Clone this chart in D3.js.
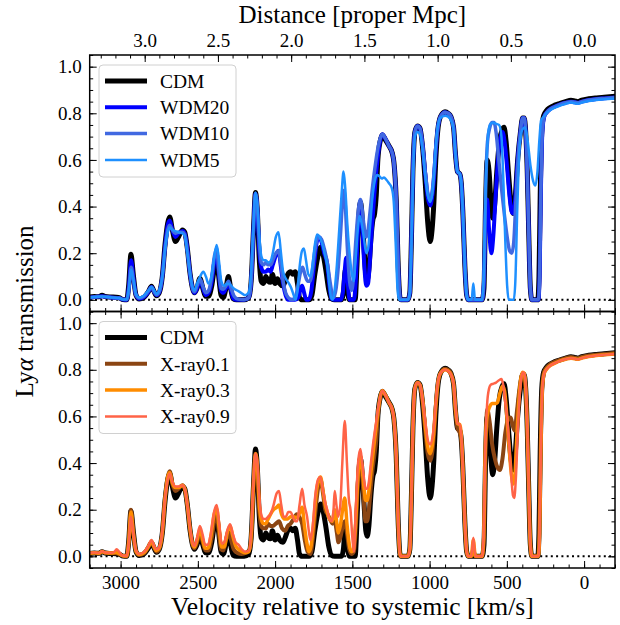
<!DOCTYPE html>
<html>
<head>
<meta charset="utf-8">
<script src="https://cdn.jsdelivr.net/npm/d3@7"></script>
<style>
body { margin: 0; background: #fff; }
text { font-family: "Liberation Serif", "DejaVu Serif", serif; fill: #000; }
</style>
</head>
<body>
<svg id="chart" width="620" height="625"></svg>
<script>
// transmission curves, [velocity km/s, transmission]
var cdm = [[3200,0.012],[3170,0.014],[3140,0.013],[3120,0.02],[3100,0.014],[3060,0.012],[3030,0.011],[3005,0.008],[2985,0.001],[2960,0],[2948,0.06],[2933,0.195],[2918,0.11],[2900,0.02],[2880,0.004],[2850,0.01],[2820,0.035],[2800,0.058],[2783,0.035],[2768,0.018],[2750,0.03],[2730,0.1],[2712,0.24],[2695,0.33],[2682,0.355],[2665,0.3],[2645,0.25],[2625,0.27],[2600,0.3],[2585,0.29],[2568,0.22],[2550,0.11],[2535,0.05],[2522,0.03],[2505,0.05],[2487,0.093],[2468,0.05],[2450,0.015],[2432,0.015],[2410,0.06],[2392,0.14],[2378,0.17],[2365,0.1],[2350,0.02],[2335,0.01],[2318,0.05],[2302,0.1],[2288,0.05],[2272,0.005],[2250,0],[2200,0],[2170,0.01],[2155,0.08],[2140,0.3],[2127,0.46],[2115,0.38],[2103,0.18],[2090,0.08],[2075,0.07],[2060,0.1],[2045,0.08],[2030,0.075],[2018,0.11],[2000,0.07],[1985,0.09],[1970,0.07],[1950,0.06],[1935,0.08],[1918,0.11],[1900,0.12],[1885,0.11],[1870,0.12],[1855,0.07],[1842,0.01],[1825,0],[1780,0],[1762,0.02],[1745,0.1],[1725,0.18],[1705,0.225],[1688,0.19],[1670,0.12],[1652,0.04],[1635,0.005],[1615,0],[1570,0],[1558,0.03],[1545,0.13],[1532,0.04],[1518,0],[1482,0],[1470,0.15],[1458,0.36],[1447,0.42],[1436,0.35],[1424,0.22],[1413,0.11],[1404,0.086],[1393,0.13],[1380,0.26],[1368,0.34],[1356,0.37],[1345,0.45],[1335,0.6],[1320,0.68],[1306,0.707],[1285,0.685],[1263,0.66],[1242,0.63],[1231,0.59],[1216,0.43],[1203,0.14],[1192,0.01],[1185,0],[1140,0],[1128,0.03],[1118,0.25],[1108,0.55],[1095,0.72],[1078,0.745],[1062,0.735],[1045,0.65],[1028,0.5],[1012,0.33],[996,0.25],[984,0.3],[972,0.42],[960,0.6],[948,0.72],[930,0.785],[900,0.807],[880,0.8],[862,0.785],[845,0.74],[832,0.62],[820,0.55],[805,0.54],[795,0.5],[785,0.38],[772,0.15],[760,0.02],[750,0],[660,0],[648,0.05],[638,0.4],[628,0.6],[615,0.55],[603,0.42],[592,0.35],[580,0.4],[565,0.55],[548,0.68],[530,0.73],[518,0.74],[505,0.68],[490,0.55],[475,0.43],[460,0.37],[448,0.42],[430,0.6],[412,0.72],[398,0.78],[388,0.78],[378,0.72],[368,0.55],[358,0.28],[348,0.05],[338,0],[300,0],[292,0.1],[284,0.45],[274,0.72],[262,0.79],[245,0.81],[220,0.825],[190,0.835],[160,0.842],[120,0.85],[85,0.856],[60,0.853],[40,0.85],[15,0.856],[-30,0.862],[-80,0.866],[-130,0.869],[-200,0.873]];

var wdm20 = [[3200,0.01],[3170,0.012],[3120,0.015],[3060,0.01],[3010,0.008],[2985,0.001],[2960,0],[2946,0.06],[2932,0.17],[2918,0.1],[2900,0.02],[2880,0.005],[2850,0.012],[2820,0.035],[2800,0.055],[2783,0.035],[2768,0.02],[2750,0.032],[2730,0.1],[2712,0.23],[2695,0.32],[2682,0.34],[2665,0.3],[2645,0.27],[2625,0.285],[2600,0.295],[2585,0.285],[2568,0.22],[2550,0.11],[2535,0.05],[2522,0.03],[2505,0.05],[2485,0.085],[2465,0.045],[2448,0.02],[2430,0.03],[2410,0.08],[2392,0.17],[2378,0.2],[2365,0.12],[2350,0.04],[2335,0.03],[2318,0.05],[2302,0.065],[2285,0.04],[2270,0.005],[2250,0],[2200,0],[2170,0.01],[2155,0.08],[2140,0.3],[2127,0.455],[2115,0.39],[2103,0.22],[2090,0.14],[2075,0.12],[2060,0.12],[2045,0.13],[2030,0.12],[2015,0.15],[1995,0.19],[1978,0.21],[1962,0.14],[1948,0.07],[1932,0.02],[1915,0],[1870,0],[1850,0.01],[1838,0.04],[1825,0.06],[1812,0.03],[1798,0],[1782,0],[1765,0.04],[1748,0.15],[1730,0.25],[1718,0.27],[1700,0.25],[1682,0.2],[1663,0.155],[1648,0.06],[1635,0.005],[1620,0],[1575,0],[1562,0.03],[1550,0.12],[1540,0.18],[1530,0.08],[1518,0],[1490,0],[1478,0.08],[1463,0.3],[1448,0.42],[1435,0.3],[1422,0.14],[1410,0.06],[1398,0.07],[1385,0.18],[1372,0.32],[1358,0.45],[1345,0.55],[1330,0.64],[1318,0.69],[1306,0.71],[1285,0.69],[1263,0.66],[1242,0.63],[1231,0.59],[1216,0.43],[1203,0.14],[1192,0.01],[1185,0],[1140,0],[1128,0.03],[1118,0.25],[1108,0.55],[1095,0.72],[1078,0.745],[1062,0.735],[1045,0.66],[1028,0.54],[1012,0.44],[996,0.405],[984,0.44],[972,0.52],[960,0.64],[948,0.73],[930,0.785],[900,0.805],[880,0.8],[862,0.785],[845,0.74],[832,0.62],[820,0.55],[805,0.54],[795,0.5],[785,0.38],[772,0.15],[760,0.02],[750,0],[660,0],[648,0.08],[638,0.35],[628,0.43],[615,0.3],[600,0.2],[588,0.27],[572,0.45],[555,0.62],[540,0.7],[528,0.72],[515,0.68],[500,0.58],[485,0.46],[470,0.38],[458,0.37],[446,0.43],[430,0.6],[412,0.72],[398,0.78],[388,0.78],[378,0.72],[368,0.55],[358,0.28],[348,0.05],[338,0],[296,0],[288,0.1],[280,0.45],[270,0.72],[258,0.785],[240,0.805],[215,0.82],[185,0.83],[155,0.838],[120,0.845],[85,0.85],[60,0.847],[40,0.845],[15,0.85],[-30,0.857],[-80,0.861],[-130,0.864],[-200,0.868]];

var wdm10 = [[3200,0.01],[3170,0.012],[3120,0.014],[3060,0.01],[3010,0.008],[2985,0.002],[2960,0.001],[2946,0.05],[2932,0.14],[2918,0.09],[2900,0.02],[2880,0.008],[2850,0.015],[2820,0.038],[2800,0.055],[2783,0.035],[2768,0.022],[2750,0.035],[2730,0.1],[2712,0.22],[2695,0.3],[2682,0.32],[2665,0.3],[2645,0.285],[2625,0.29],[2600,0.29],[2585,0.28],[2568,0.21],[2550,0.11],[2535,0.05],[2522,0.035],[2505,0.06],[2487,0.09],[2466,0.055],[2448,0.03],[2430,0.04],[2410,0.1],[2392,0.19],[2378,0.22],[2365,0.13],[2350,0.05],[2335,0.045],[2318,0.06],[2302,0.08],[2285,0.05],[2265,0.015],[2240,0.003],[2200,0],[2170,0.01],[2155,0.08],[2140,0.3],[2127,0.455],[2115,0.4],[2103,0.25],[2090,0.16],[2075,0.15],[2060,0.16],[2045,0.15],[2030,0.15],[2015,0.17],[1995,0.2],[1978,0.21],[1962,0.15],[1948,0.08],[1932,0.03],[1915,0.01],[1890,0],[1870,0.01],[1852,0.06],[1835,0.12],[1822,0.14],[1808,0.11],[1790,0.08],[1775,0.08],[1760,0.12],[1745,0.2],[1728,0.26],[1715,0.27],[1700,0.26],[1682,0.22],[1660,0.15],[1645,0.08],[1632,0.03],[1620,0.01],[1605,0.05],[1590,0.15],[1575,0.3],[1562,0.44],[1554,0.47],[1545,0.4],[1532,0.22],[1518,0.08],[1505,0.04],[1492,0.1],[1478,0.25],[1462,0.38],[1448,0.43],[1435,0.38],[1422,0.3],[1410,0.27],[1398,0.3],[1385,0.38],[1370,0.48],[1355,0.56],[1340,0.63],[1325,0.68],[1306,0.71],[1285,0.69],[1263,0.66],[1242,0.63],[1231,0.59],[1216,0.43],[1203,0.14],[1192,0.01],[1185,0],[1140,0],[1128,0.03],[1118,0.25],[1108,0.55],[1095,0.72],[1078,0.745],[1062,0.735],[1045,0.66],[1028,0.55],[1012,0.46],[996,0.43],[984,0.46],[972,0.54],[960,0.65],[948,0.73],[930,0.785],[900,0.805],[880,0.8],[862,0.785],[845,0.74],[832,0.62],[820,0.55],[805,0.54],[795,0.5],[785,0.38],[772,0.15],[760,0.02],[750,0],[660,0],[648,0.1],[638,0.45],[625,0.68],[610,0.74],[595,0.76],[583,0.76],[570,0.72],[555,0.62],[535,0.48],[515,0.36],[498,0.27],[482,0.21],[468,0.2],[455,0.25],[442,0.42],[428,0.6],[412,0.72],[398,0.78],[388,0.78],[378,0.72],[368,0.55],[358,0.28],[348,0.05],[338,0],[296,0],[288,0.1],[280,0.45],[270,0.72],[258,0.785],[240,0.805],[215,0.82],[185,0.83],[155,0.838],[120,0.845],[85,0.85],[60,0.847],[40,0.845],[15,0.85],[-30,0.857],[-80,0.861],[-130,0.864],[-200,0.868]];

var wdm5 = [[3200,0.01],[3170,0.012],[3120,0.014],[3060,0.01],[3010,0.008],[2985,0.002],[2960,0.002],[2946,0.05],[2932,0.13],[2918,0.09],[2900,0.025],[2880,0.01],[2850,0.018],[2820,0.04],[2800,0.055],[2783,0.04],[2768,0.025],[2750,0.04],[2730,0.1],[2712,0.22],[2695,0.29],[2682,0.31],[2665,0.3],[2645,0.295],[2625,0.29],[2600,0.285],[2585,0.275],[2568,0.2],[2550,0.11],[2535,0.055],[2522,0.04],[2505,0.07],[2485,0.1],[2465,0.12],[2448,0.1],[2432,0.07],[2415,0.09],[2395,0.18],[2378,0.235],[2362,0.16],[2348,0.08],[2330,0.06],[2310,0.07],[2290,0.065],[2270,0.05],[2245,0.04],[2220,0.03],[2195,0.02],[2172,0.03],[2157,0.1],[2140,0.32],[2127,0.46],[2115,0.41],[2103,0.28],[2090,0.19],[2075,0.17],[2060,0.17],[2045,0.16],[2030,0.165],[2015,0.2],[1995,0.27],[1978,0.29],[1962,0.2],[1948,0.12],[1930,0.09],[1910,0.07],[1895,0.05],[1880,0.02],[1868,0],[1855,0.04],[1840,0.15],[1826,0.21],[1814,0.22],[1800,0.17],[1785,0.11],[1771,0.1],[1758,0.15],[1742,0.24],[1728,0.28],[1712,0.27],[1695,0.24],[1680,0.2],[1663,0.15],[1650,0.07],[1638,0.01],[1628,0],[1615,0.04],[1600,0.15],[1585,0.3],[1570,0.45],[1557,0.55],[1546,0.48],[1532,0.32],[1518,0.2],[1505,0.12],[1492,0.08],[1478,0.18],[1465,0.3],[1452,0.36],[1438,0.32],[1424,0.26],[1410,0.2],[1398,0.22],[1385,0.32],[1370,0.44],[1355,0.51],[1340,0.535],[1325,0.53],[1310,0.52],[1295,0.525],[1280,0.515],[1263,0.5],[1245,0.48],[1232,0.42],[1220,0.25],[1208,0.05],[1198,0],[1140,0],[1128,0.03],[1118,0.22],[1108,0.5],[1095,0.7],[1078,0.72],[1062,0.71],[1045,0.64],[1028,0.53],[1012,0.45],[996,0.42],[984,0.45],[972,0.54],[960,0.66],[948,0.74],[930,0.78],[900,0.79],[880,0.785],[862,0.77],[845,0.73],[832,0.62],[820,0.55],[805,0.54],[795,0.5],[785,0.38],[772,0.15],[760,0.02],[750,0],[728,0],[717,0.07],[706,0],[660,0],[650,0.1],[638,0.45],[625,0.68],[610,0.75],[590,0.76],[570,0.755],[550,0.75],[535,0.7],[522,0.5],[510,0.25],[498,0.06],[488,0],[455,0],[445,0.08],[432,0.4],[418,0.65],[400,0.73],[382,0.74],[365,0.68],[348,0.58],[330,0.51],[315,0.49],[302,0.55],[290,0.68],[278,0.77],[262,0.785],[245,0.8],[215,0.815],[185,0.825],[155,0.833],[120,0.84],[85,0.846],[60,0.843],[40,0.841],[15,0.846],[-30,0.853],[-80,0.857],[-130,0.86],[-200,0.864]];

var xray01 = [[3200,0.012],[3170,0.014],[3140,0.013],[3120,0.02],[3100,0.015],[3060,0.013],[3030,0.013],[3005,0.008],[2985,0.002],[2960,0],[2948,0.06],[2933,0.2],[2918,0.11],[2900,0.02],[2880,0.006],[2850,0.012],[2820,0.04],[2800,0.062],[2783,0.038],[2768,0.02],[2750,0.032],[2730,0.1],[2712,0.25],[2695,0.34],[2682,0.365],[2665,0.31],[2645,0.28],[2625,0.29],[2600,0.305],[2585,0.29],[2568,0.22],[2550,0.11],[2535,0.05],[2522,0.035],[2505,0.06],[2487,0.1],[2468,0.06],[2450,0.025],[2432,0.025],[2410,0.08],[2392,0.16],[2378,0.185],[2365,0.11],[2350,0.03],[2335,0.025],[2318,0.07],[2300,0.1],[2285,0.07],[2268,0.03],[2245,0.015],[2215,0.01],[2190,0.015],[2165,0.03],[2152,0.1],[2140,0.3],[2127,0.44],[2115,0.38],[2103,0.2],[2090,0.13],[2075,0.12],[2060,0.12],[2045,0.14],[2030,0.13],[2015,0.13],[1995,0.14],[1975,0.15],[1955,0.12],[1935,0.11],[1918,0.13],[1900,0.14],[1880,0.16],[1860,0.18],[1845,0.17],[1825,0.14],[1808,0.07],[1790,0.02],[1772,0.01],[1755,0.08],[1738,0.2],[1720,0.3],[1706,0.33],[1690,0.27],[1675,0.2],[1660,0.18],[1645,0.16],[1628,0.14],[1614,0.15],[1600,0.1],[1590,0.06],[1578,0.08],[1565,0.12],[1550,0.15],[1535,0.1],[1520,0.03],[1505,0.01],[1490,0.02],[1478,0.12],[1463,0.33],[1448,0.43],[1435,0.34],[1424,0.22],[1415,0.15],[1405,0.15],[1393,0.2],[1380,0.3],[1368,0.38],[1356,0.44],[1345,0.5],[1335,0.6],[1320,0.68],[1306,0.71],[1285,0.69],[1263,0.66],[1242,0.63],[1231,0.59],[1216,0.43],[1203,0.14],[1192,0.01],[1185,0],[1140,0],[1128,0.03],[1118,0.25],[1108,0.55],[1095,0.72],[1078,0.745],[1062,0.735],[1045,0.66],[1028,0.54],[1012,0.44],[996,0.41],[984,0.44],[972,0.52],[960,0.64],[948,0.73],[930,0.785],[900,0.805],[880,0.8],[862,0.785],[845,0.74],[832,0.62],[820,0.55],[805,0.53],[795,0.5],[785,0.38],[772,0.15],[760,0.02],[750,0],[730,0],[717,0.03],[704,0],[660,0],[648,0.08],[638,0.45],[627,0.63],[612,0.58],[595,0.48],[578,0.42],[560,0.38],[545,0.37],[528,0.42],[510,0.53],[490,0.59],[475,0.595],[462,0.56],[449,0.54],[435,0.62],[418,0.72],[400,0.78],[388,0.78],[378,0.72],[368,0.55],[358,0.28],[348,0.05],[338,0],[298,0],[290,0.1],[282,0.45],[272,0.72],[260,0.79],[242,0.81],[218,0.825],[188,0.835],[158,0.842],[120,0.85],[85,0.855],[60,0.852],[40,0.85],[15,0.855],[-30,0.861],[-80,0.865],[-130,0.868],[-200,0.872]];

var xray03 = [[3200,0.013],[3170,0.015],[3140,0.013],[3120,0.021],[3100,0.015],[3060,0.014],[3030,0.017],[3010,0.012],[2990,0.003],[2960,0.001],[2948,0.055],[2933,0.19],[2918,0.1],[2900,0.022],[2880,0.008],[2850,0.015],[2820,0.042],[2800,0.065],[2783,0.04],[2768,0.025],[2750,0.035],[2730,0.105],[2712,0.25],[2695,0.34],[2682,0.36],[2665,0.315],[2645,0.295],[2625,0.295],[2600,0.305],[2585,0.29],[2568,0.22],[2550,0.115],[2535,0.055],[2522,0.04],[2505,0.07],[2487,0.115],[2468,0.07],[2453,0.035],[2435,0.035],[2415,0.09],[2395,0.18],[2378,0.205],[2362,0.12],[2346,0.04],[2330,0.04],[2310,0.1],[2291,0.13],[2275,0.09],[2255,0.045],[2237,0.03],[2215,0.02],[2194,0.015],[2170,0.02],[2155,0.09],[2140,0.31],[2127,0.44],[2115,0.39],[2103,0.23],[2090,0.16],[2075,0.14],[2062,0.14],[2045,0.16],[2030,0.18],[2010,0.2],[1990,0.21],[1975,0.22],[1958,0.18],[1940,0.16],[1920,0.16],[1900,0.17],[1880,0.17],[1860,0.165],[1845,0.18],[1825,0.21],[1810,0.13],[1795,0.06],[1780,0.02],[1768,0.04],[1750,0.15],[1732,0.28],[1716,0.33],[1706,0.34],[1690,0.28],[1675,0.22],[1663,0.19],[1648,0.16],[1630,0.15],[1614,0.2],[1600,0.14],[1592,0.1],[1578,0.13],[1563,0.2],[1549,0.25],[1535,0.14],[1520,0.05],[1505,0.02],[1492,0.03],[1478,0.15],[1463,0.35],[1448,0.43],[1436,0.37],[1424,0.29],[1415,0.24],[1405,0.24],[1393,0.28],[1380,0.36],[1368,0.43],[1356,0.5],[1345,0.56],[1332,0.63],[1318,0.69],[1306,0.71],[1285,0.69],[1263,0.66],[1242,0.63],[1231,0.59],[1216,0.43],[1203,0.14],[1192,0.01],[1185,0],[1140,0],[1128,0.03],[1118,0.25],[1108,0.55],[1095,0.72],[1078,0.745],[1062,0.735],[1045,0.67],[1028,0.56],[1012,0.47],[996,0.44],[984,0.47],[972,0.54],[960,0.65],[948,0.735],[930,0.785],[900,0.8],[880,0.795],[862,0.78],[845,0.74],[832,0.63],[820,0.57],[805,0.565],[795,0.52],[785,0.38],[772,0.15],[760,0.02],[750,0],[730,0],[717,0.07],[704,0],[660,0],[650,0.08],[640,0.45],[628,0.6],[612,0.64],[594,0.655],[575,0.655],[561,0.66],[545,0.7],[528,0.73],[515,0.71],[500,0.6],[487,0.48],[472,0.36],[460,0.31],[450,0.33],[438,0.48],[425,0.64],[410,0.76],[398,0.79],[388,0.785],[378,0.72],[368,0.55],[358,0.28],[348,0.05],[338,0],[296,0],[288,0.1],[280,0.45],[270,0.72],[258,0.785],[240,0.805],[215,0.82],[185,0.83],[155,0.838],[120,0.845],[85,0.85],[60,0.847],[40,0.845],[15,0.85],[-30,0.857],[-80,0.861],[-130,0.864],[-200,0.868]];

var xray09 = [[3200,0.015],[3170,0.016],[3140,0.014],[3120,0.022],[3100,0.016],[3060,0.015],[3040,0.02],[3026,0.03],[3010,0.02],[2990,0.004],[2960,0.002],[2948,0.05],[2933,0.17],[2918,0.1],[2900,0.025],[2880,0.01],[2850,0.018],[2820,0.045],[2800,0.07],[2783,0.045],[2768,0.03],[2750,0.04],[2730,0.11],[2712,0.25],[2695,0.33],[2682,0.355],[2665,0.32],[2645,0.3],[2625,0.3],[2600,0.305],[2585,0.29],[2568,0.22],[2550,0.12],[2535,0.06],[2522,0.045],[2505,0.08],[2487,0.13],[2468,0.09],[2453,0.05],[2435,0.05],[2415,0.1],[2395,0.19],[2378,0.22],[2362,0.14],[2346,0.055],[2330,0.06],[2310,0.11],[2291,0.138],[2275,0.1],[2255,0.06],[2237,0.05],[2215,0.03],[2194,0.02],[2170,0.025],[2155,0.1],[2140,0.32],[2127,0.44],[2115,0.4],[2103,0.26],[2090,0.18],[2075,0.16],[2062,0.16],[2045,0.17],[2030,0.18],[2010,0.22],[1990,0.27],[1975,0.28],[1960,0.22],[1945,0.17],[1930,0.17],[1915,0.19],[1900,0.19],[1885,0.17],[1870,0.15],[1857,0.15],[1842,0.22],[1825,0.29],[1810,0.22],[1793,0.17],[1780,0.1],[1771,0.07],[1758,0.12],[1740,0.26],[1722,0.33],[1706,0.34],[1690,0.28],[1675,0.23],[1663,0.2],[1648,0.16],[1632,0.15],[1622,0.2],[1614,0.28],[1603,0.22],[1592,0.17],[1578,0.22],[1565,0.4],[1549,0.58],[1535,0.4],[1522,0.24],[1512,0.2],[1500,0.08],[1490,0.02],[1478,0.2],[1463,0.4],[1448,0.46],[1436,0.4],[1424,0.33],[1415,0.29],[1405,0.29],[1393,0.32],[1380,0.4],[1368,0.47],[1356,0.53],[1345,0.58],[1332,0.64],[1318,0.69],[1306,0.71],[1285,0.69],[1263,0.66],[1242,0.63],[1231,0.59],[1216,0.43],[1203,0.14],[1192,0.01],[1185,0],[1140,0],[1128,0.03],[1118,0.25],[1108,0.55],[1095,0.72],[1078,0.745],[1062,0.735],[1045,0.67],[1028,0.58],[1012,0.5],[996,0.48],[984,0.5],[972,0.56],[960,0.66],[948,0.74],[930,0.785],[900,0.8],[880,0.795],[862,0.78],[845,0.74],[832,0.64],[820,0.57],[805,0.565],[795,0.52],[785,0.38],[772,0.15],[760,0.02],[750,0],[730,0],[717,0.08],[704,0],[660,0],[650,0.1],[640,0.45],[628,0.65],[615,0.72],[605,0.735],[590,0.74],[570,0.745],[551,0.755],[535,0.76],[525,0.74],[510,0.66],[496,0.58],[482,0.45],[470,0.33],[460,0.26],[452,0.25],[442,0.33],[430,0.52],[418,0.68],[405,0.77],[395,0.79],[385,0.78],[375,0.7],[366,0.52],[357,0.26],[348,0.05],[338,0],[296,0],[288,0.1],[280,0.45],[270,0.72],[258,0.785],[240,0.805],[215,0.82],[185,0.83],[155,0.838],[120,0.845],[85,0.85],[60,0.847],[40,0.845],[15,0.85],[-30,0.857],[-80,0.861],[-130,0.864],[-200,0.868]];

var topSeries = [
    { name: "CDM", values: cdm, color: "#000000", width: 5 },
    { name: "WDM20", values: wdm20, color: "#0000ff", width: 4 },
    { name: "WDM10", values: wdm10, color: "#4169e1", width: 3.5 },
    { name: "WDM5", values: wdm5, color: "#1e90ff", width: 2.5 }
];
var bottomSeries = [
    { name: "CDM", values: cdm, color: "#000000", width: 5 },
    { name: "X-ray0.1", values: xray01, color: "#8b4513", width: 4 },
    { name: "X-ray0.3", values: xray03, color: "#ff8c00", width: 3.5 },
    { name: "X-ray0.9", values: xray09, color: "#ff6347", width: 2.5 }
];

var velocityTicks = [3000, 2500, 2000, 1500, 1000, 500, 0];
var distanceTicks = [3.0, 2.5, 2.0, 1.5, 1.0, 0.5, 0.0];
var yTicks = [0, 0.2, 0.4, 0.6, 0.8, 1.0];
var hubble = 948; // km/s per proper Mpc

var svg = d3.select("#chart");
var left = 89.7, right = 615;
var panels = [
    { top: 55, bottom: 311.5, series: topSeries },
    { top: 311.5, bottom: 568, series: bottomSeries }
];

var x = d3.scaleLinear().domain([3200, -200]).range([left, right]);
var xDist = d3.scaleLinear().domain([3200 / hubble, -200 / hubble]).range([left, right]);

function minorTicks(start, stop, step) {
    var out = [];
    for (var v = start; v <= stop + 1e-9; v += step) out.push(+v.toFixed(4));
    return out;
}

function drawTicks(g, scale, orient, major, minor, labels) {
    var axisFn = { bottom: d3.axisBottom, top: d3.axisTop, left: d3.axisLeft, right: d3.axisRight }[orient];
    var gMinor = g.append("g").call(axisFn(scale).tickValues(minor).tickSize(-3.5).tickFormat(""));
    var gMajor = g.append("g").call(axisFn(scale).tickValues(major).tickSize(-7).tickPadding(8)
        .tickFormat(labels ? labels : ""));
    [gMinor, gMajor].forEach(function (a) {
        a.select(".domain").remove();
        a.selectAll("line").attr("stroke", "#000").attr("stroke-width", 1);
        a.selectAll("text").attr("font-size", 19).attr("font-family", "Liberation Serif, serif").attr("fill", "#000");
    });
    return gMajor;
}

panels.forEach(function (p, i) {
    var y = d3.scaleLinear().domain([-0.05, 1.05]).range([p.bottom, p.top]);
    var line = d3.line()
        .x(function (d) { return x(d[0]); })
        .y(function (d) { return y(d[1]); })
        .curve(d3.curveMonotoneX);

    svg.append("clipPath").attr("id", "clip" + i).append("rect")
        .attr("x", left).attr("y", p.top).attr("width", right - left).attr("height", p.bottom - p.top);

    var plot = svg.append("g").attr("clip-path", "url(#clip" + i + ")");

    plot.append("line")
        .attr("x1", left).attr("x2", right)
        .attr("y1", y(0)).attr("y2", y(0))
        .attr("stroke", "#000").attr("stroke-width", 2)
        .attr("stroke-dasharray", "2,3.3");

    p.series.forEach(function (s) {
        plot.append("path")
            .datum(s.values)
            .attr("fill", "none")
            .attr("stroke", s.color)
            .attr("stroke-width", s.width)
            .attr("stroke-linejoin", "round")
            .attr("stroke-linecap", "round")
            .attr("d", line);
    });

    // ticks on all four sides
    var vMinor = minorTicks(-200, 3200, 100);
    var gB = svg.append("g").attr("transform", "translate(0," + p.bottom + ")");
    drawTicks(gB, x, "bottom", velocityTicks, vMinor, i === 1 ? d3.format("d") : null);
    var gT = svg.append("g").attr("transform", "translate(0," + p.top + ")");
    if (i === 0) {
        drawTicks(gT, xDist, "top", distanceTicks, minorTicks(0, 3.3, 0.1), d3.format(".1f"));
    } else {
        drawTicks(gT, x, "top", velocityTicks, vMinor, null);
    }
    var yMinor = minorTicks(-0.05, 1.05, 0.05);
    var gL = svg.append("g").attr("transform", "translate(" + left + ",0)");
    drawTicks(gL, y, "left", yTicks, yMinor, d3.format(".1f"));
    var gR = svg.append("g").attr("transform", "translate(" + right + ",0)");
    drawTicks(gR, y, "right", yTicks, yMinor, null);

    svg.append("rect")
        .attr("x", left).attr("y", p.top)
        .attr("width", right - left).attr("height", p.bottom - p.top)
        .attr("fill", "none").attr("stroke", "#000").attr("stroke-width", 1.5);

    // legend
    var lg = svg.append("g").attr("transform", "translate(99," + (p.top + 10) + ")");
    lg.append("rect")
        .attr("width", 137).attr("height", 112).attr("rx", 4)
        .attr("fill", "#fff").attr("fill-opacity", 0.8)
        .attr("stroke", "#d0d0d0").attr("stroke-width", 1);
    p.series.forEach(function (s, k) {
        var ly = 16 + k * 26.3;
        lg.append("line")
            .attr("x1", 6).attr("x2", 48).attr("y1", ly).attr("y2", ly)
            .attr("stroke", s.color).attr("stroke-width", s.width);
        lg.append("text")
            .attr("x", 61).attr("y", ly).attr("dy", "0.35em")
            .attr("font-size", 19.5).text(s.name);
    });
});

// axis titles
svg.append("text")
    .attr("x", (left + right) / 2).attr("y", 23)
    .attr("text-anchor", "middle").attr("font-size", 25)
    .text("Distance [proper Mpc]");

svg.append("text")
    .attr("x", (left + right) / 2).attr("y", 615)
    .attr("text-anchor", "middle").attr("font-size", 25.5)
    .text("Velocity relative to systemic [km/s]");

var yl = svg.append("text")
    .attr("transform", "translate(33,311.5) rotate(-90)")
    .attr("text-anchor", "middle").attr("font-size", 25);
yl.append("tspan").text("Ly");
yl.append("tspan").attr("font-style", "italic").text("α");
yl.append("tspan").text(" transmission");
</script>
</body>
</html>
